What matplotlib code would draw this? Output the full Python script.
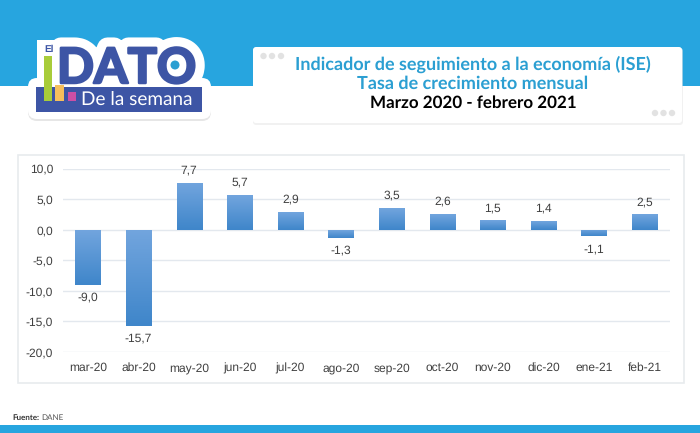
import matplotlib
matplotlib.use("Agg")
import matplotlib.patheffects as pe
import matplotlib.pyplot as plt
import numpy as np
from matplotlib.patches import Circle, FancyBboxPatch, Rectangle

plt.rcParams["text.hinting"] = "no_hinting"
plt.rcParams["text.hinting_factor"] = 1

# ── data ───────────────────────────────────────────────────────────────────────
months = ["mar-20", "abr-20", "may-20", "jun-20", "jul-20", "ago-20",
          "sep-20", "oct-20", "nov-20", "dic-20", "ene-21", "feb-21"]
growth = [-9.0, -15.7, 7.7, 5.7, 2.9, -1.3, 3.5, 2.6, 1.5, 1.4, -1.1, 2.5]
y_ticks = [10, 5, 0, -5, -10, -15, -20]

BLUE = "#27a5df"
NAVY = "#3d55a5"
W, H = 700, 433


def fmt(v):
    return f"{v:.1f}".replace(".", ",")


def rounded(bg, x0, y0, x1, y1, r, **kw):
    bg.add_patch(FancyBboxPatch((x0, y0), x1 - x0, y1 - y0,
                                boxstyle=f"round,pad=0,rounding_size={r}", **kw))


fig = plt.figure(figsize=(W / 100, H / 100), dpi=100, facecolor="white")

# pixel-coordinate layer for the infographic frame
bg = fig.add_axes([0, 0, 1, 1])
bg.set_xlim(0, W)
bg.set_ylim(H, 0)
bg.axis("off")

bg.add_patch(Rectangle((0, 0), W, 86, fc=BLUE, ec="none"))
bg.add_patch(Rectangle((0, 425), W, 8, fc=BLUE, ec="none"))

# ── title card ─────────────────────────────────────────────────────────────────
rounded(bg, 253, 48, 683, 125, 3, fc="#e9e9e9", ec="none", alpha=0.6)
rounded(bg, 253, 47, 682, 123, 3, fc="white", ec="none")
for cx in (263.5, 272, 281):
    bg.add_patch(Circle((cx, 56), 3.2, fc="#e2e2e2", ec="none"))
for cx in (655, 663.5, 672):
    bg.add_patch(Circle((cx, 113), 3.2, fc="#e2e2e2", ec="none"))
bg.text(473, 64, "Indicador de seguimiento a la economía (ISE)", color="#2b9fd2",
        fontsize=13.1, fontweight="bold", family="Lato", ha="center", va="center")
bg.text(473, 84, "Tasa de crecimiento mensual", color="#2b9fd2",
        fontsize=13.1, fontweight="bold", family="Lato", ha="center", va="center")
bg.text(473, 103, "Marzo 2020 - febrero 2021", color="black",
        fontsize=11.9, fontweight="bold", family="Lato", ha="center", va="center")

# ── logo ───────────────────────────────────────────────────────────────────────
rounded(bg, 28, 82, 211, 121, 9, fc="#e6e6e6", ec="none")
rounded(bg, 28, 78, 211, 119, 9, fc="white", ec="none")
bg.add_patch(Rectangle((36, 87), 166, 25, fc=NAVY, ec="none", zorder=3))
bg.add_patch(Rectangle((37, 40), 26, 48, fc="white", ec="none", zorder=2))
# white halo first, then the letters, same text object
bg.text(57, 83, "DATO", color=NAVY, fontsize=35, fontweight="bold", family="Lato",
        ha="left", va="baseline", zorder=2,
        path_effects=[pe.withStroke(linewidth=15, foreground="white"),
                      pe.withStroke(linewidth=1.8, foreground=NAVY)])
bg.add_patch(Circle((175, 65), 4.5, fc="#2b9fd2", ec="none", zorder=5))
bg.add_patch(Rectangle((44, 56), 8, 45, fc="#a8cc3a", ec="none", zorder=5))
bg.add_patch(Rectangle((55, 85), 9, 16, fc="#f6bf5c", ec="none", zorder=5))
bg.add_patch(Rectangle((68, 92), 8, 9, fc="#cc4fa5", ec="none", zorder=5))
bg.text(44, 52, "El", color=NAVY, fontsize=7.5, fontweight="bold", family="Liberation Sans",
        ha="left", va="baseline", zorder=5)
bg.text(81, 99, "De la semana", color="white", fontsize=13.5, family="Lato",
        ha="left", va="center", zorder=5)

bg.text(12, 418, "Fuente:", color="#333333", fontsize=5.8, fontweight="bold", family="Lato",
        ha="left", va="center")
bg.text(41.5, 418, "DANE", color="#555555", fontsize=5.8, family="Lato",
        ha="left", va="center")

# chart frame
bg.add_patch(Rectangle((17.5, 154.5), 666, 228, fc="white", ec="#e8ebee", lw=1.2))

# ── chart ──────────────────────────────────────────────────────────────────────
ax = fig.add_axes([62.7 / W, 1 - 352 / H, (670 - 62.7) / W, (352 - 168.5) / H])
ax.patch.set_alpha(0)
x = np.arange(len(months))
bars = ax.bar(x, growth, width=0.5, color="#5b97d5", zorder=2)

gradient = np.linspace(0, 1, 64).reshape(-1, 1)
cmap = matplotlib.colors.LinearSegmentedColormap.from_list("bar", ["#72a5de", "#3f86ca"])
for bar, val in zip(bars, growth):
    x0, w = bar.get_x(), bar.get_width()
    im = ax.imshow(gradient, cmap=cmap, aspect="auto", zorder=3,
                   extent=(x0, x0 + w, min(val, 0), max(val, 0)), origin="upper")
    im.set_clip_path(bar)
    offset = 9 if val > 0 else -9
    ax.annotate(fmt(val), (bar.get_x() + w / 2, val), xytext=(0, offset),
                textcoords="offset points", ha="center", va="center",
                fontsize=8.8, color="#404040", family="Liberation Sans")

ax.set_xlim(-0.5, len(months) - 0.5)
ax.set_ylim(-20, 10)
ax.set_xticks(x, months)
ax.set_yticks(y_ticks, [fmt(t) for t in y_ticks])
ax.grid(axis="y", color="#e3e8ee", lw=1, zorder=0)
ax.set_axisbelow(True)
ax.tick_params(length=0, labelsize=8.8, labelcolor="#404040")
ax.tick_params(axis="x", pad=7.5)
ax.tick_params(axis="y", pad=7)
for lab in ax.get_xticklabels() + ax.get_yticklabels():
    lab.set_family("Liberation Sans")
for s in ax.spines.values():
    s.set_visible(False)

fig.savefig("out.png", dpi=100)
